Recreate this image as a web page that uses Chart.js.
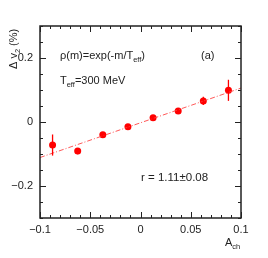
<!DOCTYPE html>
<html>
<head>
<meta charset="utf-8">
<script src="https://cdn.jsdelivr.net/npm/chart.js@4/dist/chart.umd.min.js"></script>
<style>
  body { margin: 0; background: #fff; }
  canvas { display: block; }
</style>
</head>
<body>
<canvas id="chart" width="268" height="258"></canvas>
<script>
// data
let achValues = [-0.0875, -0.0625, -0.0375, -0.0125, 0.0125, 0.0375, 0.0625, 0.0875];
let dv2Values = [-0.072, -0.091, -0.040, -0.015, 0.013, 0.034, 0.066, 0.099];
let dv2Errors = [0.033, 0.010, 0.005, 0.005, 0.005, 0.005, 0.013, 0.033];
let fitX = [-0.1, 0.1];
let fitY = [-0.111, 0.106];
let xTicks = [-0.1, -0.05, 0, 0.05, 0.1];
let yTicks = [-0.2, 0, 0.2];

let font = "'Liberation Sans', Arial, sans-serif";
let red = "#ff0000";

function fmt(v) {
    let s = String(Math.abs(v));
    if (Math.abs(v) < 1e-9) return "0";
    return (v < 0 ? "\u2212" : "") + s;
}

// text with subscript pieces: [[text, isSub], ...]
function drawParts(ctx, parts, x, y, size) {
    parts.forEach(p => {
        let sz = p[1] ? size * 0.68 : size;
        ctx.font = sz + "px " + font;
        ctx.fillText(p[0], x, p[1] ? y + size * 0.28 : y);
        x += ctx.measureText(p[0]).width;
    });
}

let errorBars = {
    id: "errorBars",
    afterDatasetsDraw(c) {
        let ctx = c.ctx;
        let xs = c.scales.x, ys = c.scales.y;
        ctx.save();
        ctx.strokeStyle = red;
        ctx.lineWidth = 1.3;
        achValues.forEach((a, i) => {
            let px = xs.getPixelForValue(a);
            ctx.beginPath();
            ctx.moveTo(px, ys.getPixelForValue(dv2Values[i] - dv2Errors[i]));
            ctx.lineTo(px, ys.getPixelForValue(dv2Values[i] + dv2Errors[i]));
            ctx.stroke();
        });
        ctx.restore();
    }
};

let frame = {
    id: "frame",
    afterDraw(c) {
        let ctx = c.ctx;
        let a = c.chartArea;
        let xs = c.scales.x, ys = c.scales.y;
        ctx.save();
        ctx.strokeStyle = "#222";
        ctx.lineWidth = 1.5;
        ctx.strokeRect(a.left, a.top, a.right - a.left, a.bottom - a.top);
        ctx.lineWidth = 1;
        // x ticks (inside, bottom and top)
        for (let i = -10; i <= 10; i++) {
            let v = i / 100;
            let px = Math.round(xs.getPixelForValue(v)) + 0.5;
            let len = i % 5 === 0 ? 6 : 3;
            ctx.beginPath();
            ctx.moveTo(px, a.bottom); ctx.lineTo(px, a.bottom - len);
            ctx.moveTo(px, a.top); ctx.lineTo(px, a.top + len);
            ctx.stroke();
        }
        // y ticks (inside, left and right)
        for (let i = -6; i <= 6; i++) {
            let v = i / 20;
            let py = Math.round(ys.getPixelForValue(v)) + 0.5;
            let len = i % 4 === 0 ? 6 : 3;
            ctx.beginPath();
            ctx.moveTo(a.left, py); ctx.lineTo(a.left + len, py);
            ctx.moveTo(a.right, py); ctx.lineTo(a.right - len, py);
            ctx.stroke();
        }

        ctx.fillStyle = "#222";
        ctx.textBaseline = "alphabetic";
        ctx.textAlign = "left";
        // y axis title, rotated
        ctx.save();
        ctx.translate(17, 69);
        ctx.rotate(-Math.PI / 2);
        drawParts(ctx, [["\u0394 v", false], ["2", true], [" (%)", false]], 0, 0, 11);
        ctx.restore();
        // x axis title
        drawParts(ctx, [["A", false], ["ch", true]], 225, 246, 11);
        // annotations
        drawParts(ctx, [["\u03c1(m)=exp(-m/T", false], ["eff", true], [")", false]], 60, 59, 11);
        drawParts(ctx, [["T", false], ["eff", true], ["=300 MeV", false]], 60, 84, 11);
        drawParts(ctx, [["(a)", false]], 201, 59, 11);
        drawParts(ctx, [["r = 1.11\u00b10.08", false]], 141, 181, 11.5);
        ctx.restore();
    }
};

let ctx = document.getElementById("chart").getContext("2d");
let chart = new Chart(ctx, {
    type: "scatter",
    data: {
        datasets: [{
            type: "line",
            data: fitX.map((x, i) => ({ x: x, y: fitY[i] })),
            borderColor: "rgba(255,60,60,0.85)",
            borderWidth: 1,
            borderDash: [5, 2, 1, 2],
            pointRadius: 0,
            fill: false
        }, {
            data: achValues.map((x, i) => ({ x: x, y: dv2Values[i] })),
            backgroundColor: red,
            borderColor: red,
            pointRadius: 3.5,
            pointBorderWidth: 0
        }]
    },
    options: {
        responsive: false,
        animation: false,
        devicePixelRatio: 1,
        layout: { padding: { left: 0, right: 27, top: 26, bottom: 0 } },
        plugins: { legend: { display: false }, tooltip: { enabled: false } },
        scales: {
            x: {
                type: "linear",
                min: -0.1,
                max: 0.1,
                afterBuildTicks: s => { s.ticks = xTicks.map(v => ({ value: v })); },
                afterFit: s => { s.height = 40; },
                grid: { display: false, drawTicks: false },
                border: { display: false },
                ticks: {
                    callback: v => fmt(v),
                    font: { family: font, size: 11 },
                    color: "#222",
                    padding: 5,
                    maxRotation: 0
                }
            },
            y: {
                type: "linear",
                min: -0.3,
                max: 0.3,
                afterBuildTicks: s => { s.ticks = yTicks.map(v => ({ value: v })); },
                afterFit: s => { s.width = 40; },
                grid: { display: false, drawTicks: false },
                border: { display: false },
                ticks: {
                    callback: v => fmt(v),
                    font: { family: font, size: 11 },
                    color: "#222",
                    padding: 7
                }
            }
        }
    },
    plugins: [errorBars, frame]
});
</script>
</body>
</html>
